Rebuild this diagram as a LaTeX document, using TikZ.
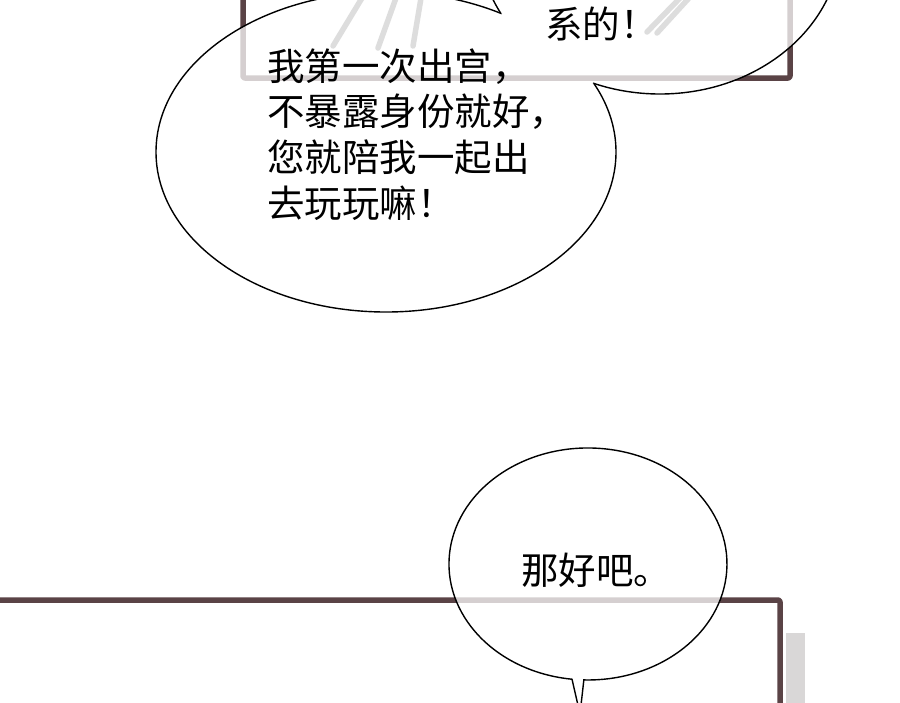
\documentclass[tikz,border=0pt]{standalone}
\usepackage{fontspec}
\newfontfamily\cjk{Noto Sans CJK SC}
\definecolor{framecol}{HTML}{5A4346}
\definecolor{sketchcol}{HTML}{7A7A7A}
\definecolor{shadowcol}{HTML}{D9D7D7}
\begin{document}
\begin{tikzpicture}[x=1pt,y=-1pt,
  panel/.style={draw=framecol, line width=5.5pt, line join=round, rounded corners=2pt},
  sketchline/.style={draw=sketchcol, line width=5.5pt, line cap=round},
  bubblefill/.style={fill=white, fill opacity=0.75},
  bubbleline/.style={draw=black, line width=1.4pt},
  say/.style={font=\cjk\fontsize{37.5}{45}\selectfont, inner sep=0pt, anchor=base west, text=black}]
\useasboundingbox (0,0) rectangle (900,702);
\fill[white] (0,0) rectangle (900,702);
\clip (0,0) rectangle (900,702);

% centres of the bubbles
\coordinate (cA) at (386,152);
\coordinate (cB) at (660,-60);
\coordinate (cC) at (588,564);
\coordinate (tipC) at (580,714);

% upper panel and its faint sketch
\draw[sketchline] (333,46) -- (362,-2);
\draw[sketchline] (378,48) -- (396,-2);
\draw[sketchline] (413,46) -- (421,-2);
\draw[sketchline] (647,32) -- (680,-2);
\draw[sketchline] (657,33) -- (689,-2);
\draw[panel] (243,-10) -- (243,78) -- (790,78) -- (790,-10);

% lower panel
\fill[shadowcol] (786,633) rectangle (805,710);
\draw[panel] (-10,600) -- (780,600) -- (780,712);

% upper joined bubble: fill
\fill[bubblefill] (cA) ellipse [x radius=230, y radius=160]
                  (cB) ellipse [x radius=181, y radius=154];
% outlines, each only outside the other
\begin{scope}[even odd rule]
  \clip (-50,-300) rectangle (950,750) (cB) ellipse [x radius=181, y radius=154];
  \draw[bubbleline] (cA) ellipse [x radius=230, y radius=160];
\end{scope}
\begin{scope}[even odd rule]
  \clip (-50,-300) rectangle (950,750) (cA) ellipse [x radius=230, y radius=160];
  \draw[bubbleline] (cB) ellipse [x radius=181, y radius=154];
\end{scope}

% lower bubble with tail
\path[bubblefill] (572.0,679.2) arc[start angle=96.6, end angle=451.7, x radius=139, y radius=116]
  -- (tipC) -- cycle;
\draw[bubbleline, line join=miter] (572.0,679.2) arc[start angle=96.6, end angle=451.7, x radius=139, y radius=116]
  -- (tipC) -- cycle;

% texts
\node[say] (t0) at (545,38) {系的！};
\node[say] (t1) at (267,80) {我第一次出宫，};
\node[say] (t2) at (267,125) {不暴露身份就好，};
\node[say] (t3) at (267,171) {您就陪我一起出};
\node[say] (t4) at (267,217) {去玩玩嘛！};
\node[say] (t5) at (521,584) {那好吧。};
\end{tikzpicture}
\end{document}
